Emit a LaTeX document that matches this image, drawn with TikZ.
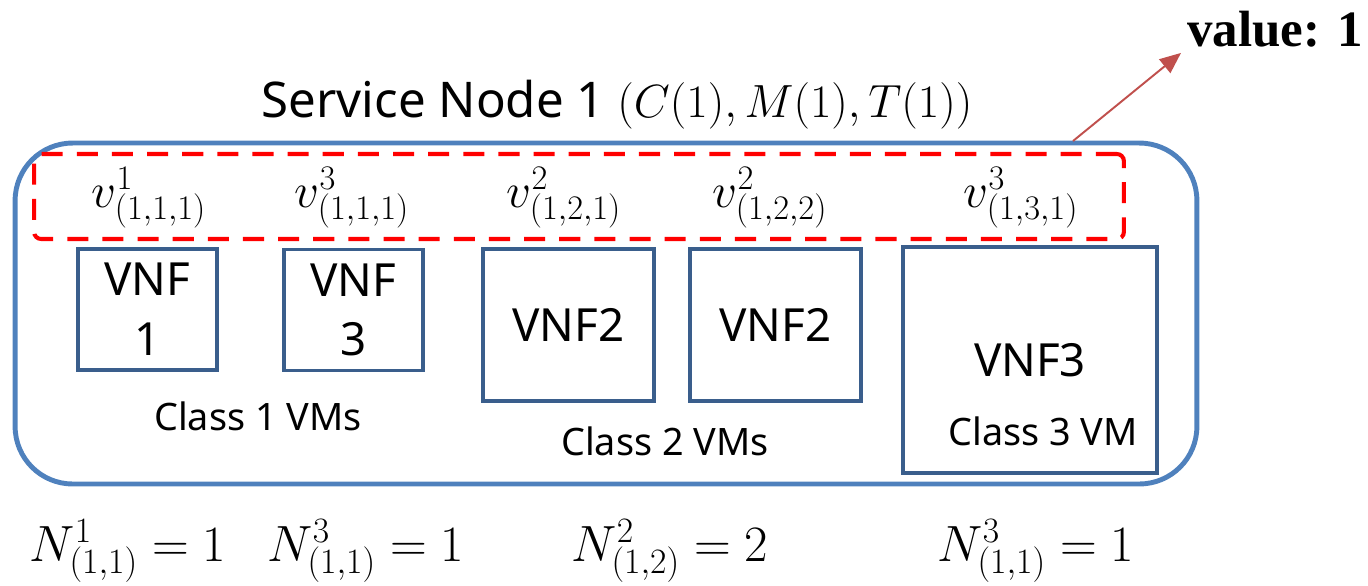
\RequirePackage{fix-cm}
\documentclass[tikz,border=0pt]{standalone}
\usepackage{fontspec}
\setmainfont{Noto Sans}
\newfontfamily\valfont{Liberation Serif}
\usepackage{xcolor}
\usepackage{tikz}
\usetikzlibrary{arrows.meta, positioning}
\definecolor{nodeblue}{RGB}{79,129,189}
\definecolor{vmblue}{RGB}{58,94,140}
\definecolor{arrowred}{RGB}{192,80,77}
\tikzstyle{service} = [rectangle, draw=nodeblue, line width=2.8pt, rounded corners=1.15cm, inner sep=0pt]
\tikzstyle{group} = [rectangle, draw=red, line width=2.3pt, dash pattern=on 12pt off 8pt, rounded corners=4pt, inner sep=0pt]
\tikzstyle{vm} = [rectangle, draw=vmblue, line width=2.2pt, align=center, inner sep=0pt, font=\fontsize{26}{34}\selectfont]
\tikzstyle{cls} = [font=\fontsize{21.5}{24}\selectfont, anchor=base]
\tikzstyle{vlab} = [font=\fontsize{28}{32}\selectfont, anchor=base]
\tikzstyle{count} = [font=\fontsize{29}{32}\selectfont, anchor=base]
\tikzstyle{arrow} = [line width=1.1pt, arrowred, -{Triangle[length=12pt, width=10pt]}]

\begin{document}
\begin{tikzpicture}[x=0.02cm, y=-0.02cm]
    \useasboundingbox (0,0) rectangle (1368,585);

    \node[service, minimum width=23.64cm, minimum height=6.82cm] (sn) at (606,313.5) {};
    \node[group, minimum width=21.8cm, minimum height=1.7cm] (grp) at (579,196.5) {};
    \node[anchor=base, font=\fontsize{28}{30}\selectfont] (title) at (617,117) {Service Node 1 {\fontsize{26.5}{30}\selectfont$(C(1),M(1),T(1))$}};
    \node[anchor=base west, font=\fontsize{29}{32}\valfont\bfseries] (val) at (1181,46) {value: 1};

    % VM labels
    \node[vlab] (v1) at (149,207) {$v^{1}_{(1,1,1)}$};
    \node[vlab] (v2) at (352,207) {$v^{3}_{(1,1,1)}$};
    \node[vlab] (v3) at (564,207) {$v^{2}_{(1,2,1)}$};
    \node[vlab] (v4) at (770,207) {$v^{2}_{(1,2,2)}$};
    \node[vlab] (v5) at (1021,207) {$v^{3}_{(1,3,1)}$};

    % VMs
    \node[vm, minimum width=2.78cm, minimum height=2.42cm] (vnfa) at (147.5,309.5) {VNF\\1};
    \node[vm, minimum width=2.78cm, minimum height=2.42cm] (vnfb) at (353.5,310) {VNF\\3};
    \node[vm, minimum width=3.42cm, minimum height=3.04cm] (vnfc) at (568.5,325) {VNF2};
    \node[vm, minimum width=3.42cm, minimum height=3.04cm] (vnfd) at (775.5,325) {VNF2};
    \node[vm, minimum width=5.08cm, minimum height=4.52cm] (vnfe) at (1030,360) {VNF3};

    \node[cls] (c1) at (258,430) {Class 1 VMs};
    \node[cls] (c2) at (665,455) {Class 2 VMs};
    \node[cls] (c3) at (1043,445) {Class 3 VM};

    % counts
    \node[count] (n1) at (128,561) {$N^{1}_{(1,1)}=1$};
    \node[count] (n2) at (366,561) {$N^{3}_{(1,1)}=1$};
    \node[count] (n3) at (670,561) {$N^{2}_{(1,2)}=2$};
    \node[count] (n4) at (1036,561) {$N^{3}_{(1,1)}=1$};

    \coordinate (src) at (1073,141);
    \draw[arrow] (src) -- (val.south west);
\end{tikzpicture}
\end{document}
